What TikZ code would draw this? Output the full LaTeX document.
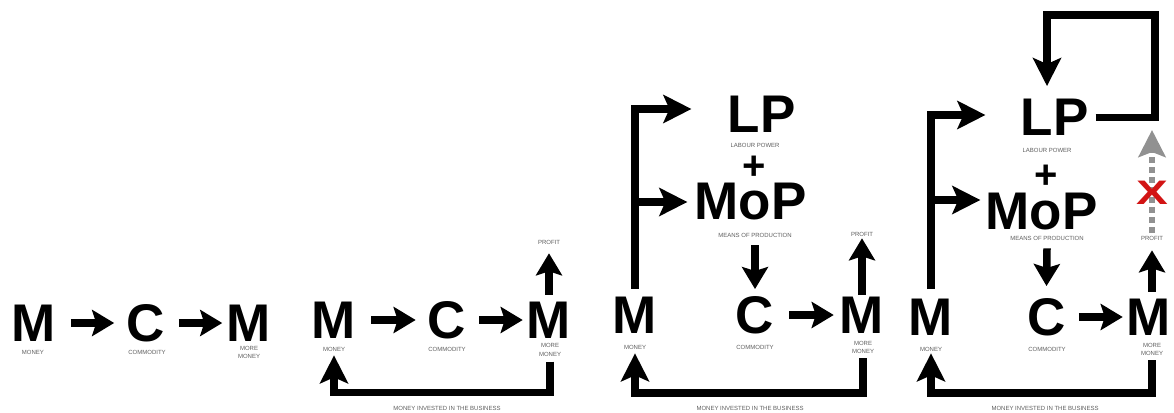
\documentclass[tikz,border=0pt]{standalone}
\usepackage{fontspec}
\setmainfont{Liberation Sans}
\usetikzlibrary{arrows.meta,positioning,calc}
\definecolor{labelgray}{RGB}{95,95,95}
\definecolor{fadegray}{RGB}{145,145,145}
\definecolor{crossred}{RGB}{210,20,20}

\begin{document}
\begin{tikzpicture}[x=1pt,y=-1pt,
    big/.style={font=\fontsize{53}{53}\selectfont\bfseries,inner sep=0pt},
    plus/.style={font=\fontsize{40}{40}\selectfont\bfseries,inner sep=0pt},
    lbl/.style={font=\fontsize{6}{8.5}\selectfont,text=labelgray,inner sep=0pt,align=center},
    flow/.style={line width=7.5pt,-{Stealth[length=22pt,width=26pt,inset=4pt]}},
    feed/.style={line width=7.5pt,-{Stealth[length=28pt,width=28pt,inset=6pt]}},
    reinvest/.style={draw=fadegray,line width=6pt,dash pattern=on 6pt off 4pt,
      -{Stealth[length=27pt,width=27pt,inset=5pt,fill=fadegray]}},
    cross/.style={font=\fontsize{34}{34}\selectfont\bfseries,text=crossred,inner sep=0pt}]
    \useasboundingbox (0,0) rectangle (1174,412);
    \fill[white] (0,0) rectangle (1174,412);

    % M - C - M
    \node[big] (m1a) at (33.5,323) {M};
    \node[big] (c1) at (145.5,323) {C};
    \node[big] (m1b) at (248.5,323) {M};
    \node[lbl] (mn1) at (33,352) {MONEY};
    \node[lbl] (cm1) at (147,352) {COMMODITY};
    \node[lbl] (mm1) at (249,352.5) {MORE\\MONEY};
    \draw[flow] ([xshift=15pt]m1a.east) -- ([xshift=-12pt]c1.west);
    \draw[flow] ([xshift=14pt]c1.east) -- ([xshift=-4pt]m1b.west);

    % M - C - M with profit and money put back
    \node[big] (m2a) at (334,320) {M};
    \node[big] (c2) at (447,320) {C};
    \node[big] (m2b) at (549,320) {M};
    \node[lbl] (mn2) at (334,349) {MONEY};
    \node[lbl] (cm2) at (447,349) {COMMODITY};
    \node[lbl] (mm2) at (550,350) {MORE\\MONEY};
    \node[lbl] (pf2) at (549,242) {PROFIT};
    \node[lbl] (inv2) at (447,408) {MONEY INVESTED IN THE BUSINESS};
    \draw[flow] ([xshift=15pt]m2a.east) -- ([xshift=-12pt]c2.west);
    \draw[flow] ([xshift=13pt]c2.east) -- ([xshift=-4pt]m2b.west);
    \draw[flow] ([yshift=7pt]m2b.north) -- ([yshift=-9pt]pf2.south);
    \draw[feed] ([yshift=-5pt]mm2.south) -- ++(0,31) -| ([yshift=-4pt]mn2.south);

    % M buys LP + MoP
    \node[big] (m3a) at (635,315) {M};
    \node[big] (c3) at (755,315) {C};
    \node[big] (m3b) at (862,315) {M};
    \node[big] (lp3) at (761.5,114) {LP};
    \node[plus] (pl3) at (754,168) {+};
    \node[big] (mop3) at (750.5,202) {MoP};
    \node[lbl] (lpl3) at (755,145) {LABOUR POWER};
    \node[lbl] (mpl3) at (755,235) {MEANS OF PRODUCTION};
    \node[lbl] (mn3) at (635,347) {MONEY};
    \node[lbl] (cm3) at (755,347) {COMMODITY};
    \node[lbl] (mm3) at (863,347.5) {MORE\\MONEY};
    \node[lbl] (pf3) at (862,234) {PROFIT};
    \node[lbl] (inv3) at (750,408) {MONEY INVESTED IN THE BUSINESS};
    \draw[feed] ([yshift=8pt]m3a.north) coordinate (sp3) |- ([xshift=-36pt,yshift=5pt]lp3.west);
    \draw[feed] (sp3 |- mop3.west) -- ([xshift=-7pt]mop3.west);
    \draw[flow] ([yshift=-8pt]mpl3.south) -- ([yshift=7pt]c3.north);
    \draw[flow] ([xshift=15pt]c3.east) -- ([xshift=-6pt]m3b.west);
    \draw[flow] ([yshift=2pt]m3b.north) -- ([yshift=-2pt]pf3.south);
    \draw[feed] ([yshift=-4pt]mm3.south) -- ++(0,35) -| ([yshift=-4pt]mn3.south);

    % profit blocked, LP fed back
    \node[big] (m4a) at (931,317.5) {M};
    \node[big] (c4) at (1046.5,317) {C};
    \node[big] (m4b) at (1149,317) {M};
    \node[big] (lp4) at (1054.5,117.5) {LP};
    \node[plus] (pl4) at (1046,177) {+};
    \node[big] (mop4) at (1041.5,212) {MoP};
    \node[lbl] (lpl4) at (1047,150) {LABOUR POWER};
    \node[lbl] (mpl4) at (1047,238) {MEANS OF PRODUCTION};
    \node[lbl] (mn4) at (931,349) {MONEY};
    \node[lbl] (cm4) at (1047,349) {COMMODITY};
    \node[lbl] (mm4) at (1152,349.5) {MORE\\MONEY};
    \node[lbl] (pf4) at (1152,238) {PROFIT};
    \node[lbl] (inv4) at (1045,408) {MONEY INVESTED IN THE BUSINESS};
    \coordinate (top4) at (1155,15);
    \coordinate (back4) at (1152,130);
    \draw[feed] ([yshift=10pt]m4a.north) coordinate (sp4) |- ([xshift=-35pt,yshift=2.5pt]lp4.west);
    \draw[feed] ($(sp4 |- mop4.west)+(0,-12)$) -- ([xshift=-5pt,yshift=12pt]mop4.west);
    \draw[flow] ([yshift=-8pt]mpl4.south) -- ([yshift=12pt]c4.north);
    \draw[flow] ([xshift=13pt]c4.east) -- ([xshift=-4pt]m4b.west);
    \draw[flow] ($(pf4.south |- m4b.north)+(0,-7)$) -- ([yshift=-10pt]pf4.south);
    \draw[feed] ([yshift=-4pt]mm4.south) -- ++(0,33) -| ([yshift=-2pt]mn4.south);
    \draw[feed] ([xshift=7pt]lp4.east) -| (top4) -| ([xshift=-7.5pt,yshift=13pt]lp4.north);
    \draw[reinvest] ([yshift=3pt]pf4.north) -- (back4);
    \node[cross] (x4) at (1152,193) {\scalebox{1.4}[1]{X}};
\end{tikzpicture}
\end{document}
